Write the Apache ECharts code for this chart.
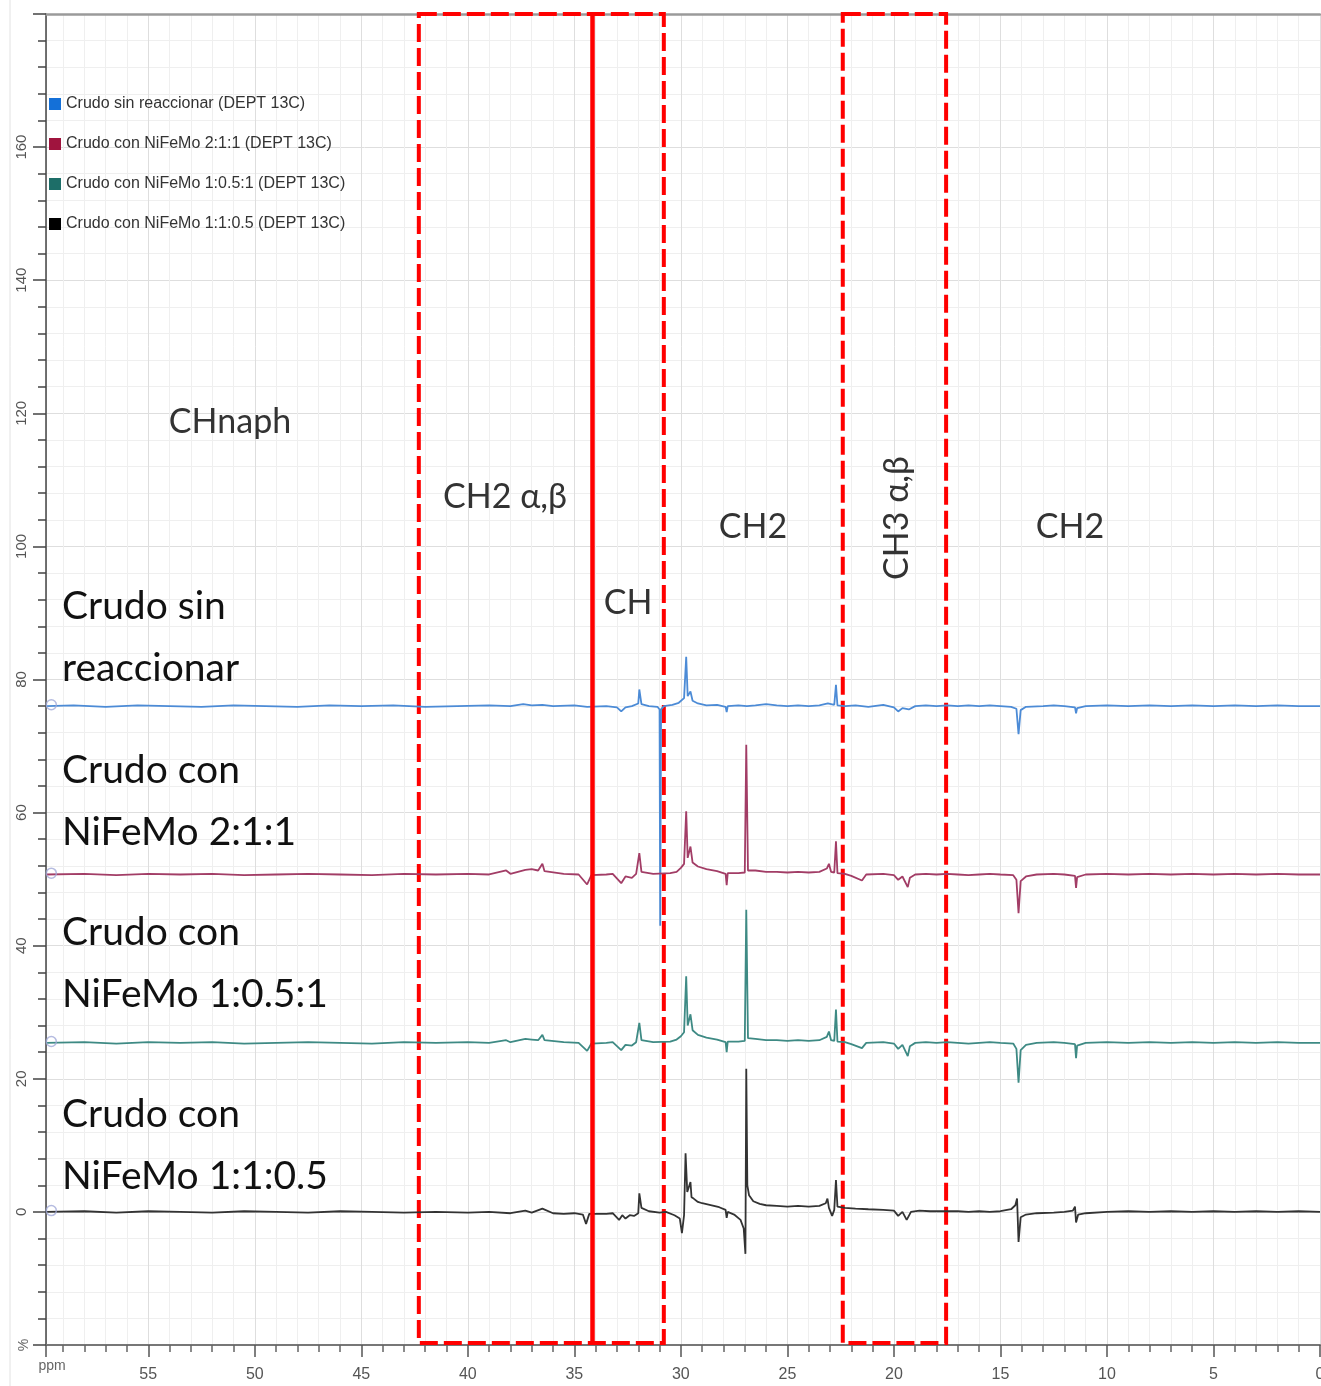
<!DOCTYPE html>
<html>
<head>
<meta charset="utf-8">
<script src="https://cdn.jsdelivr.net/npm/echarts@6/dist/echarts.min.js"></script>
<style>
  html, body { margin: 0; padding: 0; background: #fff; }
  #main { width: 1321px; height: 1386px; }
</style>
</head>
<body>
<div id="main"></div>
<script>
// nombres de los espectros (leyenda)
const seriesNames = [
  'Crudo sin reaccionar (DEPT 13C)',
  'Crudo con NiFeMo 2:1:1 (DEPT 13C)',
  'Crudo con NiFeMo 1:0.5:1 (DEPT 13C)',
  'Crudo con NiFeMo 1:1:0.5 (DEPT 13C)'
];
const legendColors = ['#1470d8', '#a0143e', '#1d6e68', '#000000'];
const lineColors = ['#4c8bd6', '#a23d66', '#3e8a84', '#333333'];

// desplazamiento vertical de cada espectro (%)
const offsets = [76, 50.7, 25.4, 0];

// espectros: [ppm, intensidad relativa %]
const crudoSin = [
  [59.8,0],[58.5,0.1],[57,-0.1],[55.5,0.1],[54,0],[52.5,-0.1],[51,0.1],[49.5,0],[48,-0.1],[46.5,0.1],
  [45,0],[43.5,0.1],[42,-0.1],[40.5,0],[39,0.1],[38,0],[37.4,0.3],[37,0.1],[36.5,0.2],[36,0],
  [35,0.1],[34.4,-0.1],[33.5,0],[33,-0.2],[32.8,-0.8],[32.6,-0.2],[32.3,0],[32.0,0.4],[31.95,2.5],[31.85,0.3],
  [31.5,0],[31.1,-0.1],[31.0,-0.5],[30.97,-33],[30.93,-0.5],[30.8,0],[30.4,0.2],[30.1,0.5],[29.85,1.2],[29.75,7.4],
  [29.68,1.5],[29.55,2.2],[29.45,0.8],[29.2,0.4],[28.8,0.1],[28.3,0.2],[27.9,-0.1],[27.85,-0.9],[27.8,0],[27.3,0.1],
  [26.9,0],[26.5,0.1],[26,0.3],[25.5,0.1],[25,0],[24.5,0.1],[24,0],[23.5,0.1],[23.1,0.4],[22.8,0.2],
  [22.72,3.2],[22.65,0.1],[22.3,0],[21.8,0.1],[21.2,-0.1],[20.5,0.2],[20,-0.2],[19.8,-0.8],[19.6,-0.3],[19.3,-0.5],
  [19,0],[18.5,0.1],[18,0],[17.5,0.1],[17,0],[16.5,0.1],[16,0],[15.5,0.1],[15,0],[14.5,-0.1],
  [14.25,-0.4],[14.15,-4.2],[14.05,-0.6],[13.8,-0.1],[13,0],[12.5,0.1],[12,0],[11.5,-0.2],[11.45,-1.1],[11.4,-0.3],
  [11,0],[10,0.1],[9,0],[8,0.1],[7,0],[6,0.1],[5,0],[4,0.1],[3,0],[2,0.1],[1,0],[0,0]
];
const crudo211 = [
  [59.8,0],[58,0.1],[56.5,-0.1],[55,0.1],[53.5,0],[52,0.1],[50.5,-0.1],[49,0],[47.5,0.1],[46,0],
  [44.5,-0.1],[43,0.1],[41.5,0],[40,0.1],[39,0],[38.2,0.6],[38,0.1],[37.3,0.7],[37,0.8],[36.7,0.6],
  [36.5,1.6],[36.4,0.5],[35.5,0.1],[34.8,0],[34.4,-1.5],[34.2,-0.1],[33.5,0],[33.2,0.1],[32.8,-1.3],[32.6,-0.3],
  [32.3,-0.5],[32.1,0.1],[31.95,3.2],[31.85,0.4],[31.3,0.1],[30.5,0.2],[30.2,0.4],[30.0,1.0],[29.85,1.6],[29.75,9.5],
  [29.68,2.5],[29.55,4.2],[29.45,1.8],[29.2,1.2],[28.8,0.8],[28.3,0.5],[27.9,0.1],[27.85,-1.6],[27.8,0.2],[27.3,0.2],
  [27.0,0.3],[26.93,19.5],[26.85,0.6],[26.5,0.6],[26,0.4],[25.5,0.4],[25,0.3],[24.5,0.4],[24,0.3],[23.5,0.4],
  [23.15,0.9],[23.05,1.6],[22.95,0.4],[22.8,0.3],[22.72,5.0],[22.65,0.2],[22.3,0.1],[22.0,-0.2],[21.5,-0.9],[21.3,0],
  [20.5,0.1],[20,-0.1],[19.8,-0.8],[19.6,-0.3],[19.35,-1.9],[19.25,-0.5],[19,0],[18.5,0.1],[18,0],[17.5,0.1],
  [17,0],[16.5,-0.1],[16,0],[15.5,0.1],[15,0],[14.4,-0.1],[14.25,-0.8],[14.15,-5.8],[14.05,-1.0],[13.8,-0.3],
  [13.3,0],[12.5,0.1],[12,0],[11.5,-0.2],[11.45,-2.0],[11.4,-0.4],[11,0],[10,0.1],[9,0],[8,0.1],
  [7,0],[6,0.1],[5,0],[4,0.1],[3,0],[2,0.1],[1,0],[0,0]
];
const crudo1051 = [
  [59.8,0],[58,0.1],[56.5,-0.1],[55,0.1],[53.5,0],[52,0.1],[50.5,-0.1],[49,0],[47.5,0.1],[46,0],
  [44.5,-0.1],[43,0.1],[41.5,0],[40,0.1],[39,0],[38.2,0.4],[38,0.1],[37.3,0.6],[37,0.5],[36.7,0.4],
  [36.5,1.2],[36.4,0.4],[35.5,0.1],[34.8,0],[34.4,-1.2],[34.2,-0.1],[33.5,0],[33.2,0.1],[32.8,-1.1],[32.6,-0.3],
  [32.3,-0.4],[32.1,0.1],[31.95,3.0],[31.85,0.4],[31.3,0.1],[30.5,0.2],[30.2,0.5],[30.0,1.0],[29.85,1.6],[29.75,10.0],
  [29.68,2.6],[29.55,4.3],[29.45,1.9],[29.2,1.2],[28.8,0.8],[28.3,0.5],[27.9,0.1],[27.85,-1.4],[27.8,0.2],[27.3,0.2],
  [27.0,0.3],[26.93,20.0],[26.85,0.7],[26.5,0.6],[26,0.4],[25.5,0.4],[25,0.3],[24.5,0.4],[24,0.3],[23.5,0.4],
  [23.15,0.9],[23.05,1.7],[22.95,0.4],[22.8,0.3],[22.72,5.0],[22.65,0.2],[22.3,0.1],[22.0,-0.2],[21.5,-0.8],[21.3,0],
  [20.5,0.1],[20,-0.1],[19.8,-0.9],[19.6,-0.3],[19.35,-2.0],[19.25,-0.5],[19,0],[18.5,0.1],[18,0],[17.5,0.1],
  [17,0],[16.5,-0.1],[16,0],[15.5,0.1],[15,0],[14.4,-0.1],[14.25,-0.9],[14.15,-6.0],[14.05,-1.1],[13.8,-0.3],
  [13.3,0],[12.5,0.1],[12,0],[11.5,-0.2],[11.45,-2.3],[11.4,-0.4],[11,0],[10,0.1],[9,0],[8,0.1],
  [7,0],[6,0.1],[5,0],[4,0.1],[3,0],[2,0.1],[1,0],[0,0]
];
const crudo1105 = [
  [59.8,0],[58,0.1],[56.5,-0.1],[55,0.1],[53.5,0],[52,-0.1],[50.5,0.1],[49,0],[47.5,-0.1],[46,0.1],
  [44.5,0],[43,-0.1],[41.5,0],[40,-0.1],[39,0],[38,-0.2],[37.3,0.2],[37,-0.1],[36.5,0.5],[36,-0.2],
  [35.5,-0.3],[35,-0.2],[34.6,-0.4],[34.45,-1.8],[34.3,-0.3],[33.5,-0.3],[33.2,-0.2],[32.9,-1.2],[32.75,-0.5],[32.6,-1.0],
  [32.4,-0.5],[32.2,-0.6],[32.0,-0.2],[31.95,2.8],[31.85,0.6],[31.5,0.1],[31,-0.1],[30.7,0],[30.3,-0.5],[30.05,-1.0],
  [29.95,-3.2],[29.85,-0.5],[29.78,8.8],[29.7,3.0],[29.55,4.5],[29.5,2.2],[29.4,2.0],[29.2,1.5],[29,1.3],[28.6,1.0],
  [28.2,0.7],[27.9,0.3],[27.85,-0.9],[27.8,0],[27.5,-0.4],[27.2,-1.2],[27.05,-2.5],[26.97,-6.3],[26.93,21.5],[26.88,4.0],
  [26.8,2.5],[26.6,1.6],[26.3,1.2],[26,1.0],[25.5,0.9],[25,0.8],[24.5,0.9],[24,0.8],[23.5,0.9],[23.2,1.3],
  [23.12,2.0],[23.05,0.6],[22.9,-0.6],[22.8,0.3],[22.72,4.8],[22.65,0.8],[22.3,0.6],[21.8,0.5],[21.2,0.4],[20.5,0.3],
  [20,0.2],[19.8,-0.6],[19.6,0],[19.4,-1.2],[19.2,0],[18.8,0.2],[18.3,0.1],[17.5,0.1],[17,0.1],[16.5,0],
  [16,0.1],[15.5,0],[15,0.1],[14.5,0.4],[14.3,1.0],[14.22,2.0],[14.15,-4.5],[14.05,-0.8],[13.8,-0.4],[13.3,-0.2],
  [12.5,-0.1],[12,0],[11.6,0.2],[11.5,0.8],[11.45,-1.6],[11.35,-0.4],[11,-0.2],[10,0],[9,0.1],[8,0],
  [7,0.1],[6,0],[5,0.1],[4,0],[3,0.1],[2,0],[1,0.1],[0,0]
];
const spectra = [crudoSin, crudo211, crudo1051, crudo1105];

// zonas marcadas (ppm)
const dashedZones = [[42.3, 30.8], [22.4, 17.55]];
const solidLinePpm = 34.18;

// etiquetas de texto
const regionLabels = [
  { text: 'CHnaph', x: 230, y: 422 },
  { text: 'CH2 α,β', x: 505, y: 497 },
  { text: 'CH', x: 628, y: 603 },
  { text: 'CH2', x: 753, y: 527 },
  { text: 'CH2', x: 1070, y: 527 }
];
const sampleLabels = [
  ['Crudo sin', 'reaccionar'],
  ['Crudo con', 'NiFeMo 2:1:1'],
  ['Crudo con', 'NiFeMo 1:0.5:1'],
  ['Crudo con', 'NiFeMo 1:1:0.5']
];
const sampleLabelY = [606, 770, 932, 1114];

const chart = echarts.init(document.getElementById('main'));

const series = spectra.map((s, i) => ({
  name: seriesNames[i],
  type: 'line',
  showSymbol: false,
  z: 2,
  lineStyle: { color: lineColors[i], width: 1.8 },
  itemStyle: { color: lineColors[i] },
  data: s.map(p => [p[0], p[1] + offsets[i]])
}));

// marcadores circulares al inicio de cada espectro
series.push({
  type: 'scatter',
  z: 4,
  symbolSize: 10,
  itemStyle: { color: 'rgba(255,255,255,0)', borderColor: '#a3aad8', borderWidth: 1.5 },
  data: offsets.map(o => [59.55, o + 0.2])
});

// recuadros rojos y linea continua
series.push({
  type: 'line',
  z: 5,
  data: [],
  markArea: {
    silent: true,
    itemStyle: { color: 'rgba(0,0,0,0)', borderColor: '#ff0000', borderWidth: 4, borderType: [18, 6] },
    data: dashedZones.map(z => [{ coord: [z[0], 180] }, { coord: [z[1], -19.7] }])
  },
  markLine: {
    silent: true,
    symbol: 'none',
    label: { show: false },
    lineStyle: { color: '#ff0000', width: 4.5, type: 'solid' },
    data: [{ xAxis: solidLinePpm }]
  }
});

const graphic = [];
regionLabels.forEach(l => graphic.push({
  type: 'text', x: l.x, y: l.y, z: 100,
  style: { text: l.text, font: '34px Lato', fill: '#333', align: 'center', verticalAlign: 'middle' }
}));
graphic.push({
  type: 'text', x: 897, y: 518, rotation: Math.PI / 2, z: 100,
  style: { text: 'CH3 α,β', font: '34px Lato', fill: '#333', align: 'center', verticalAlign: 'middle' }
});
sampleLabels.forEach((lines, i) => {
  lines.forEach((t, j) => graphic.push({
    type: 'text', x: 62, y: sampleLabelY[i] + j * 62, z: 100,
    style: { text: t, font: '39px Lato', fill: '#111', align: 'left', verticalAlign: 'middle' }
  }));
});
graphic.push({
  type: 'text', x: 52, y: 1366, z: 100,
  style: { text: 'ppm', font: '14px "Liberation Sans"', fill: '#666', align: 'center', verticalAlign: 'middle' }
});
graphic.push({
  type: 'text', x: 24, y: 1345, rotation: Math.PI / 2, z: 100,
  style: { text: '%', font: '14px "Liberation Sans"', fill: '#666', align: 'center', verticalAlign: 'middle' }
});
graphic.push({
  type: 'line', z: 0, silent: true,
  shape: { x1: 10, y1: 0, x2: 10, y2: 1386 },
  style: { stroke: '#e2e2e2', lineWidth: 1 }
});

chart.setOption({
  animation: false,
  backgroundColor: '#fff',
  grid: { left: 46, right: 1, top: 14, bottom: 41, outerBoundsMode: 'none', containLabel: false },
  legend: {
    orient: 'vertical',
    left: 44, top: 91,
    itemGap: 24,
    itemWidth: 12, itemHeight: 12,
    icon: 'rect',
    textStyle: { fontSize: 16, color: '#333', fontFamily: 'Liberation Sans' },
    data: seriesNames.map((n, i) => ({ name: n, itemStyle: { color: legendColors[i] } }))
  },
  xAxis: [{
    type: 'value',
    inverse: true,
    min: 0, max: 59.8, interval: 5,
    axisLine: { onZero: false, lineStyle: { color: '#777', width: 2 } },
    axisTick: { length: 12, lineStyle: { color: '#555', width: 1.5 } },
    minorTick: { show: true, splitNumber: 5, length: 7, lineStyle: { color: '#666', width: 1.5 } },
    axisLabel: { fontSize: 16, color: '#555', margin: 22, fontFamily: 'Liberation Sans', showMaxLabel: false },
    splitLine: { show: true, lineStyle: { color: '#dedede' } },
    minorSplitLine: { show: true, lineStyle: { color: '#efefef' } }
  }, {
    type: 'value',
    position: 'top',
    inverse: true,
    min: 0, max: 59.8,
    axisLine: { show: true, onZero: false, lineStyle: { color: '#9a9a9a', width: 2.5 } },
    axisTick: { show: false },
    axisLabel: { show: false },
    splitLine: { show: false }
  }],
  yAxis: {
    type: 'value',
    position: 'left',
    min: -20, max: 180, interval: 20,
    axisLine: { show: true, onZero: false, lineStyle: { color: '#444', width: 1.5 } },
    axisTick: { show: true, length: 13, lineStyle: { color: '#444', width: 1.5 } },
    minorTick: { show: true, splitNumber: 5, length: 8, lineStyle: { color: '#444', width: 1.5 } },
    axisLabel: {
      rotate: 90, fontSize: 15, color: '#555', margin: 17, fontFamily: 'Liberation Sans',
      formatter: v => (v <= -20 || v >= 180) ? '' : String(v)
    },
    splitLine: { show: true, lineStyle: { color: '#dedede' } },
    minorSplitLine: { show: true, lineStyle: { color: '#efefef' } }
  },
  graphic: graphic,
  series: series
});
</script>
</body>
</html>
